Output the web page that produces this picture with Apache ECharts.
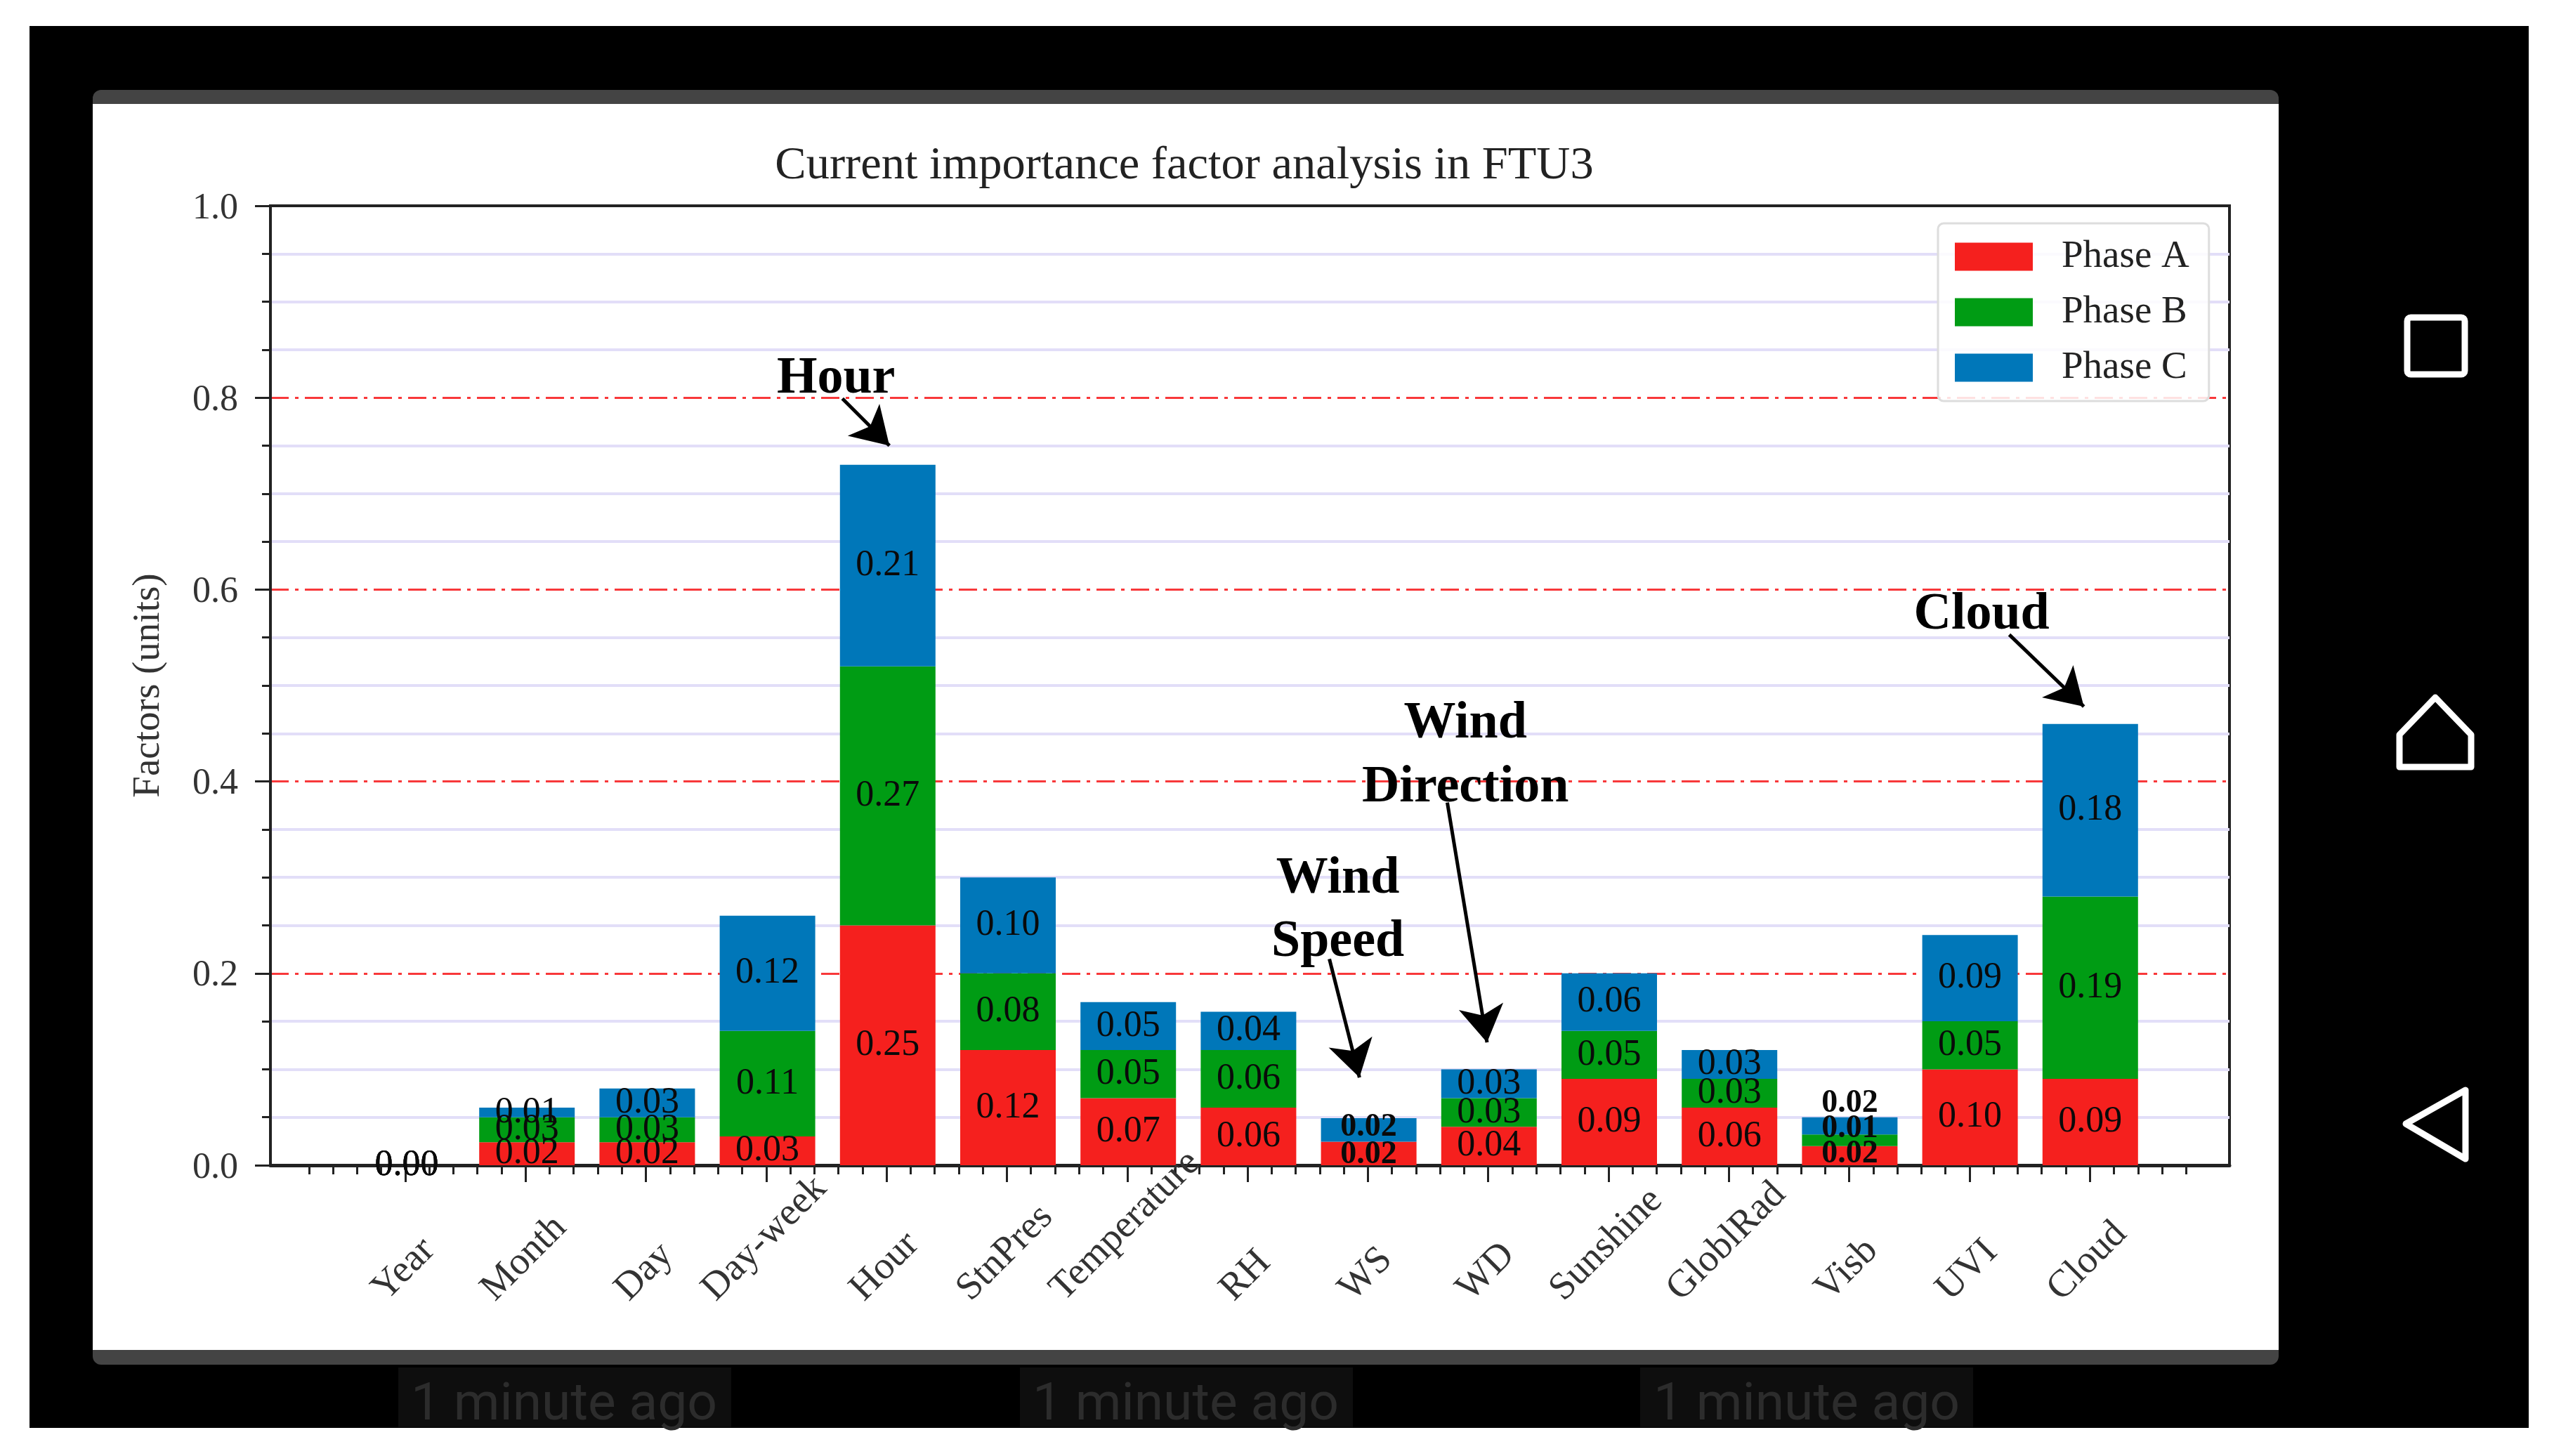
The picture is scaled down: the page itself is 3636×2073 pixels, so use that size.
<!DOCTYPE html>
<html><head><meta charset="utf-8">
<style>html,body{margin:0;background:#fff}#c{width:3636px;height:2073px}</style>
<script src="https://cdn.jsdelivr.net/npm/echarts@6/dist/echarts.min.js"></script>
</head><body><div id="c"></div>
<script>
const categories = ['Year','Month','Day','Day-week','Hour','StnPres','Temperature','RH','WS','WD','Sunshine','GloblRad','Visb','UVI','Cloud'];
const phaseA = [0,0.024,0.024,0.03,0.25,0.12,0.07,0.06,0.0245,0.04,0.09,0.06,0.02,0.10,0.09];
const phaseB = [0,0.026,0.026,0.11,0.27,0.08,0.05,0.06,0,0.03,0.05,0.03,0.012,0.05,0.19];
const phaseC = [0,0.01,0.03,0.12,0.21,0.10,0.05,0.04,0.0245,0.03,0.06,0.03,0.018,0.09,0.18];
const annotationTexts = [['Hour',3.58,0.819],['Cloud',13.10,0.573],['Wind',7.75,0.298],['Speed',7.75,0.232],['Wind',8.81,0.460],['Direction',8.81,0.393]];
const annotationArrows = [[3.633,0.799,4.024,0.750],[13.33,0.553,13.95,0.478],[7.68,0.215,7.93,0.0915],[8.66,0.378,8.99,0.128]];

const SERIF = '"Liberation Serif","Times New Roman",serif';
const RED='#f5201e', GREEN='#009c14', BLUE='#0077b9';
const boldIdx = new Set([8,12]);
const labelShift = {12:{A:-2,B:-16,C:-32},8:{A:2,B:0,C:-4}};
const xMin=-1.12, xMax=15.16;
const majorTicks = categories.map((c,i)=>i);
const minorTicks=[]; for(let k=-4;k<=74;k++){ if(k%5!==0) minorTicks.push(k/5); }

const ctx=document.createElement('canvas').getContext('2d');
const labelFont='55px '+SERIF;
ctx.font=labelFont;

function barSeries(name,vals,color,key){
  return {name,type:'bar',stack:'t',xAxisIndex:2,yAxisIndex:1,barWidth:136,
    itemStyle:{color},
    data:vals.map((v,i)=>{
      const bold=boldIdx.has(i), hide=(i===8&&key==='B');
      return {value:v,label:{show:!hide,position:'inside',
        formatter:()=>v.toFixed(2),color:'#0a0a0a',fontFamily:SERIF,
        fontSize:bold?46:52,fontWeight:bold?'bold':'normal',
        offset:[0,labelShift[i]?labelShift[i][key]:0]}};
    })};
}
const chart=echarts.init(document.getElementById('c'),null,{renderer:'canvas'});
const nameRect=(x,y,w,h,fill,z)=>({type:'rect',shape:{x,y,width:w,height:h},style:{fill},z:z,silent:true});
const graphics=[
  nameRect(42,37,3558,1996,'#000',-30),
  {type:'rect',shape:{x:132,y:128,width:3112,height:1815,r:12},style:{fill:'#444'},z:-29,silent:true},
  nameRect(132,148,3112,1774,'#fff',-28),
  nameRect(567,1947,474,85,'#0e0e0e',-27),nameRect(1452,1947,474,85,'#0e0e0e',-27),nameRect(2335,1947,474,85,'#0e0e0e',-27),
  ...[803,1688,2572].map(x=>({type:'text',x,y:2002,z:-26,silent:true,style:{text:'1 minute ago',fontFamily:'Roboto',fontSize:75,fill:'#2c2c2c',textAlign:'center',textVerticalAlign:'middle'}})),
  {type:'rect',shape:{x:3427,y:452,width:82,height:81,r:5},style:{fill:'none',stroke:'#fff',lineWidth:9},z:-26,silent:true},
  {type:'polygon',shape:{points:[[3467,993],[3416,1046],[3416,1092],[3518,1092],[3518,1046]]},style:{fill:'none',stroke:'#fff',lineWidth:9,lineJoin:'round'},z:-26,silent:true},
  {type:'polygon',shape:{points:[[3425,1600],[3510,1552],[3510,1650]]},style:{fill:'none',stroke:'#fff',lineWidth:9,lineJoin:'round'},z:-26,silent:true}
];
const option={
  animation:false,backgroundColor:'#fff',
  graphic:{elements:graphics},
  title:{text:'Current importance factor analysis in FTU3',left:1681,top:198,textAlign:'center',
    textStyle:{fontFamily:SERIF,fontWeight:'normal',fontSize:66.5,color:'#222'}},
  legend:{data:['Phase A','Phase B','Phase C'],left:2759,top:318,orient:'vertical',icon:'rect',
    itemWidth:111,itemHeight:40,itemGap:24,padding:[20,28,20,24],
    backgroundColor:'rgba(255,255,255,0.85)',borderColor:'#ddd',borderWidth:3,borderRadius:8,
    textStyle:{fontFamily:SERIF,fontSize:55,color:'#222',padding:[0,0,0,36]},z:20},
  grid:[
    {left:385,top:293,right:462,bottom:414,show:true,backgroundColor:'transparent',borderColor:'#222',borderWidth:4},
    {left:493.4,top:293,right:574.6,bottom:414}
  ],
  xAxis:[
    {type:'value',gridIndex:0,min:xMin,max:xMax,position:'bottom',splitLine:{show:false},
     axisLine:{onZero:false,lineStyle:{color:'#222',width:5}},
     axisTick:{show:true,length:24,customValues:majorTicks,lineStyle:{color:'#222',width:3}},
     axisLabel:{show:false}},
    {type:'value',gridIndex:0,min:xMin,max:xMax,position:'bottom',splitLine:{show:false},
     axisLine:{show:false},
     axisTick:{show:true,length:13,customValues:minorTicks,lineStyle:{color:'#222',width:3}},
     axisLabel:{show:false}},
    {type:'category',gridIndex:1,data:categories,boundaryGap:true,
     axisLine:{show:false},axisTick:{show:false},axisLabel:{show:false},splitLine:{show:false}},
    {type:'value',gridIndex:0,min:xMin,max:xMax,position:'top',z:3,splitLine:{show:false},
     axisLine:{onZero:false,lineStyle:{color:'#222',width:4}},axisTick:{show:false},axisLabel:{show:false}}
  ],
  yAxis:[
    {type:'value',gridIndex:0,min:0,max:1,interval:0.2,
    name:'Factors (units)',nameLocation:'middle',nameGap:146,nameRotate:90,
    nameTextStyle:{fontFamily:SERIF,fontSize:55,color:'#333'},
    axisLine:{show:true,onZero:false,lineStyle:{color:'#222',width:4}},
    axisTick:{show:true,length:22,lineStyle:{color:'#222',width:3}},
    minorTick:{show:true,splitNumber:4,length:12,lineStyle:{color:'#222',width:3}},
    axisLabel:{margin:46,fontFamily:SERIF,fontSize:52,color:'#333',formatter:v=>v.toFixed(1),verticalAlign:'top',lineHeight:8},
    splitLine:{show:true,lineStyle:{color:'#f8383a',width:3,type:[26,9,5,9]}},
    minorSplitLine:{show:true,lineStyle:{color:'#e2def8',width:4}}},
    {type:'value',gridIndex:1,min:0,max:1,show:false,splitLine:{show:false}}
  ],
  series:[
    barSeries('Phase A',phaseA,RED,'A'),
    barSeries('Phase B',phaseB,GREEN,'B'),
    barSeries('Phase C',phaseC,BLUE,'C'),
    {type:'custom',name:'xlabels',xAxisIndex:2,yAxisIndex:1,clip:false,z:5,silent:true,
     data:categories.map((c,i)=>[i,0]),
     renderItem:(p,api)=>{
       const i=p.dataIndex, t=categories[i];
       const c=api.coord([i,0]);
       const L=ctx.measureText(t).width;
       const half=(L+38)*Math.SQRT1_2/2;
       return {type:'text',x:c[0]-4,y:c[1]+198-half,rotation:Math.PI/4,
         style:{text:t,font:labelFont,fill:'#333',textAlign:'center',textVerticalAlign:'middle'}};
     }},
    {type:'custom',name:'notes',xAxisIndex:0,yAxisIndex:0,clip:false,z:10,silent:true,
     data:annotationTexts.map(a=>[a[1],a[2]]),
     renderItem:(p,api)=>{
       const a=annotationTexts[p.dataIndex], c=api.coord([a[1],a[2]]);
       return {type:'text',x:c[0],y:c[1],
         style:{text:a[0],font:'bold 74px '+SERIF,fill:'#000',textAlign:'center',textVerticalAlign:'middle'}};
     },
     markLine:{silent:true,animation:false,symbol:['none','arrow'],symbolSize:[48,52],
       lineStyle:{color:'#000',width:5,type:'solid',opacity:1},label:{show:false},
       data:annotationArrows.map(a=>[{coord:[a[0],a[1]]},{coord:[a[2],a[3]]}])}}
  ]
};
chart.setOption(option);
</script></body></html>
